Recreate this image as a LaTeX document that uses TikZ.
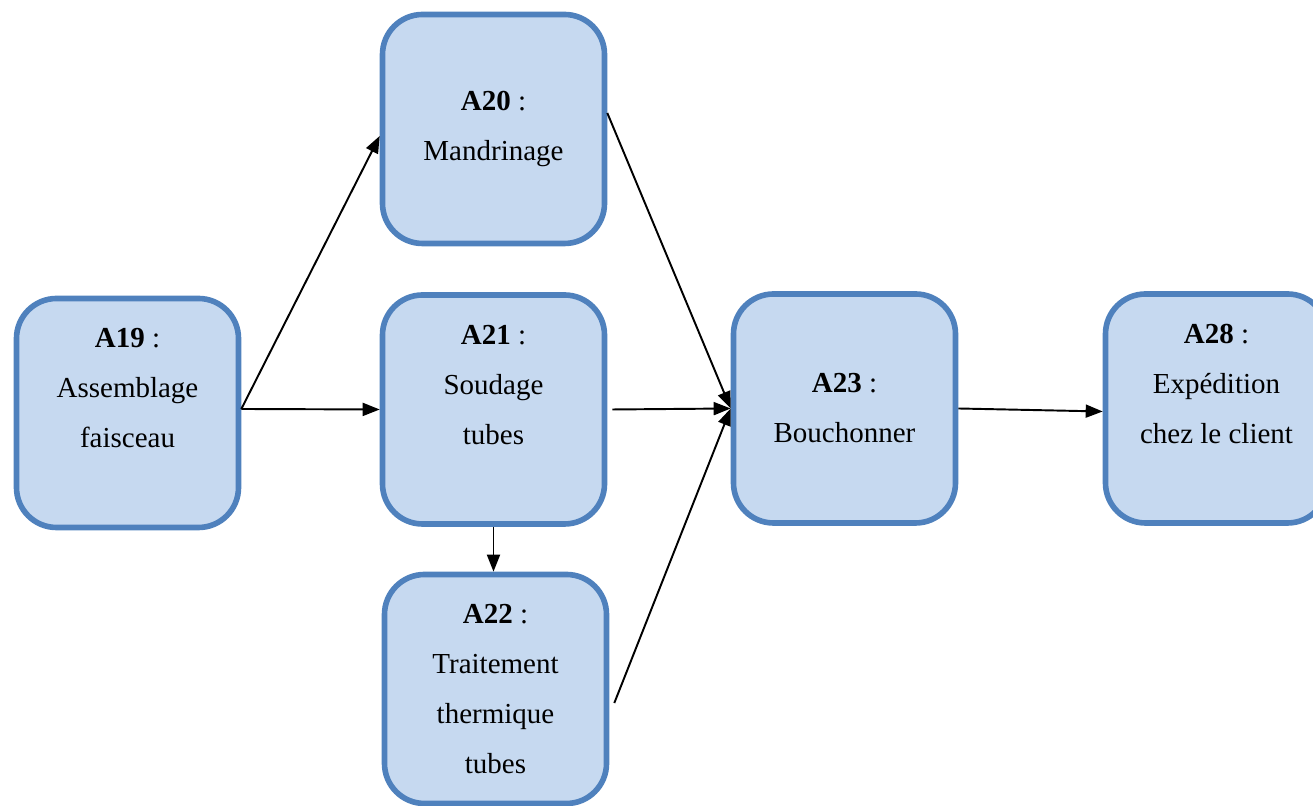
\documentclass[tikz,border=0pt]{standalone}
\usepackage{fontspec}
\setmainfont{Liberation Serif}
\usepackage{tikz}
\usetikzlibrary{arrows.meta}
\usetikzlibrary{positioning}

\definecolor{fondbleu}{HTML}{C6D9F0}
\definecolor{bordbleu}{HTML}{4F81BD}

\begin{document}
\begin{tikzpicture}[
	etape/.style={rectangle, draw=bordbleu, line width=3.2pt, fill=fondbleu, rounded corners=0.8cm, minimum width=\bw, minimum height=\bh, inner sep=0pt, align=center, font=\fontsize{16.5}{28.45}\selectfont},
	fleche/.style={black, line width=1.1pt, -{Triangle[length=0.34cm, width=0.26cm]}}]

\newcommand\bw{4.44cm}
\newcommand\bh{4.58cm}

\useasboundingbox (0,0) rectangle (26.26,16.12);
\clip (0,0) rectangle (26.26,16.12);

\node at (2.55,7.86) [etape] (a19) {\textbf{A19} :\\ Assemblage\\ faisceau\\ \mbox{}};
\node at (9.87,13.54) [etape] (a20) {\textbf{A20} :\\ Mandrinage};
\node at (9.87,7.93) [etape] (a21) {\textbf{A21} :\\ Soudage\\ tubes\\ \mbox{}};
\node at (9.91,2.34) [etape] (a22) {\textbf{A22} :\\ Traitement\\ thermique\\ tubes};
\node at (16.89,7.95) [etape] (a23) {\textbf{A23} :\\ Bouchonner};
\node at (24.33,7.95) [etape] (a28) {\textbf{A28} :\\ Expédition\\ chez le client\\ \mbox{}};

\draw[fleche] ([yshift=0.08cm]a19.east) -- (a21.west);
\draw[fleche] ([yshift=0.08cm]a19.east) -- ([yshift=-0.14cm]a20.west);
\draw[fleche] ([yshift=0.32cm]a20.east) -- (a23.west);
\draw[fleche] ([xshift=0.1cm]a21.east) -- (a23.west);
\draw[fleche] ([xshift=0.1cm, yshift=-0.28cm]a22.east) -- (a23.west);
\draw[fleche] (a21.south) -- (a21.south |- a22.north);
\draw[fleche] (a23.east) -- ([yshift=-0.06cm]a28.west);

\end{tikzpicture}
\end{document}
